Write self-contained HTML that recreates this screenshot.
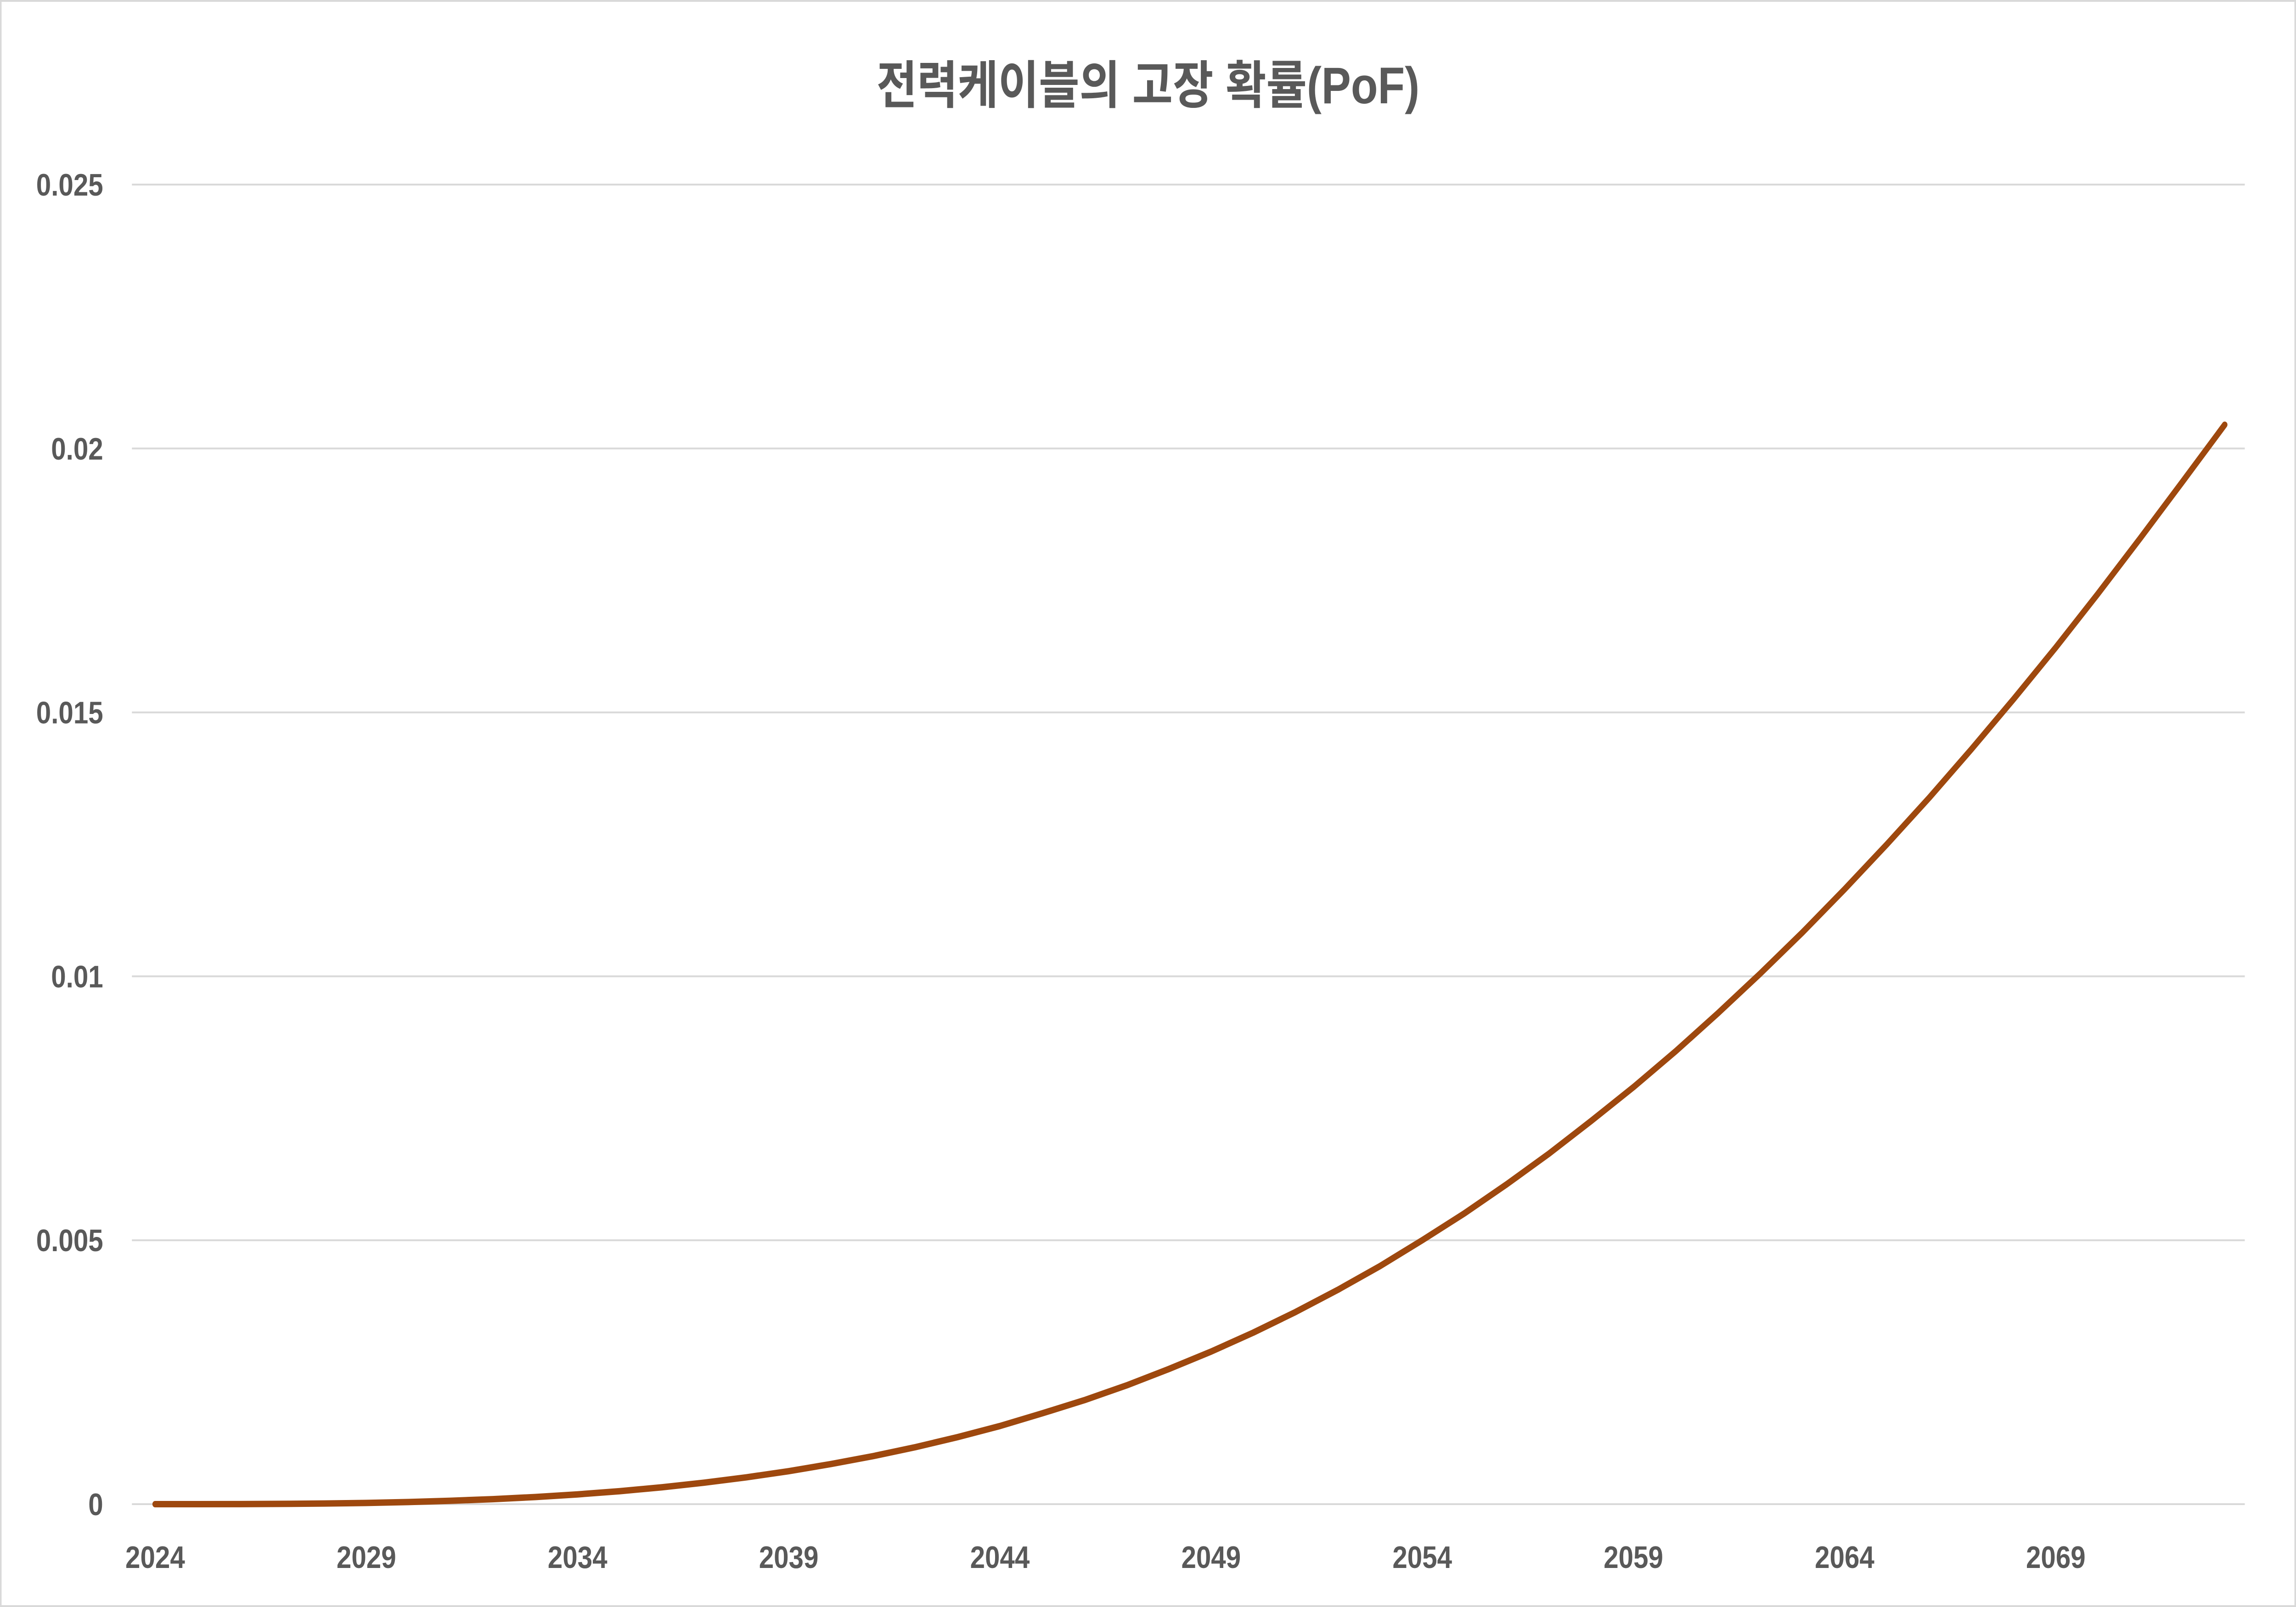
<!DOCTYPE html>
<html><head><meta charset="utf-8"><style>
html,body{margin:0;padding:0;background:#fff;width:100vw;height:100vh;overflow:hidden;}
svg{display:block;width:100vw;height:100vh;}
text{font-family:"Liberation Sans","Noto Sans CJK KR",sans-serif;font-weight:bold;fill:#595959;}
</style></head><body>
<svg id="chart" viewBox="0 0 5830 3500" preserveAspectRatio="none" xmlns="http://www.w3.org/2000/svg">
<rect x="2" y="2" width="5826" height="3496" fill="#fff" stroke="#d9d9d9" stroke-width="4"/>
<text x="2915" y="225" font-size="112" text-anchor="middle">전력케이블의 고장 확률(PoF)</text>
<g id="grid"></g><g id="yt"></g><g id="xt"></g><g id="series"></g>
</svg>
<script>
const years = [];
for (let y = 2024; y <= 2073; y++) years.push(y);
const pofValues = [0,0.0000002,0.0000015,0.000005,0.000012,0.000023,0.00004,0.000064,0.000095,0.000135,0.000185,0.000246,0.00032,0.000407,0.000508,0.000625,0.00076,0.00091,0.00108,0.00127,0.00148,0.00172,0.00197,0.00225,0.00256,0.00289,0.00325,0.00364,0.00406,0.00451,0.005,0.00551,0.00606,0.00664,0.00726,0.0079,0.00858,0.0093,0.01005,0.01083,0.01165,0.0125,0.01338,0.0143,0.01525,0.01623,0.01725,0.0183,0.01937,0.02045];
const yTicks = [0,0.005,0.01,0.015,0.02,0.025];
const yTickLabels = ["0","0.005","0.01","0.015","0.02","0.025"];
const xTickLabels = ["2024","2029","2034","2039","2044","2049","2054","2059","2064","2069"];
const NS="http://www.w3.org/2000/svg";
const x0=394, xStep=(5220-394)/45, yBase=3276, yTop=402, yMax=0.025;
const xs = i => x0 + i*xStep;
const ys = v => yBase - v/yMax*(yBase-yTop);
const grid=document.getElementById('grid'), yt=document.getElementById('yt'), xt=document.getElementById('xt'), ser=document.getElementById('series');
yTicks.forEach((t,i)=>{
  const l=document.createElementNS(NS,'line');
  
  
  l.setAttribute('x1',335);l.setAttribute('x2',5700);l.setAttribute('y1',ys(t));l.setAttribute('y2',ys(t));
  l.setAttribute('stroke','#d9d9d9');l.setAttribute('stroke-width',4);
  grid.appendChild(l);
  const tx=document.createElementNS(NS,'text');
  
  
  tx.setAttribute('x',262);tx.setAttribute('y',ys(t)+24);tx.setAttribute('font-size',68);tx.setAttribute('text-anchor','end');
  tx.textContent=yTickLabels[i];
  yt.appendChild(tx);
});
xTickLabels.forEach((lab,i)=>{
  const tx=document.createElementNS(NS,'text');
  
  
  tx.setAttribute('x',xs(years.indexOf(+lab)));tx.setAttribute('y',3415);tx.setAttribute('font-size',68);tx.setAttribute('text-anchor','middle');
  tx.textContent=lab;
  xt.appendChild(tx);
});
const p=document.createElementNS(NS,'polyline');


p.setAttribute('points',pofValues.map((v,i)=>xs(i)+','+ys(v)).join(' '));
p.setAttribute('fill','none');p.setAttribute('stroke','#9e480e');p.setAttribute('stroke-width',14);
p.setAttribute('stroke-linejoin','round');p.setAttribute('stroke-linecap','round');
ser.appendChild(p);
</script>
</body></html>
